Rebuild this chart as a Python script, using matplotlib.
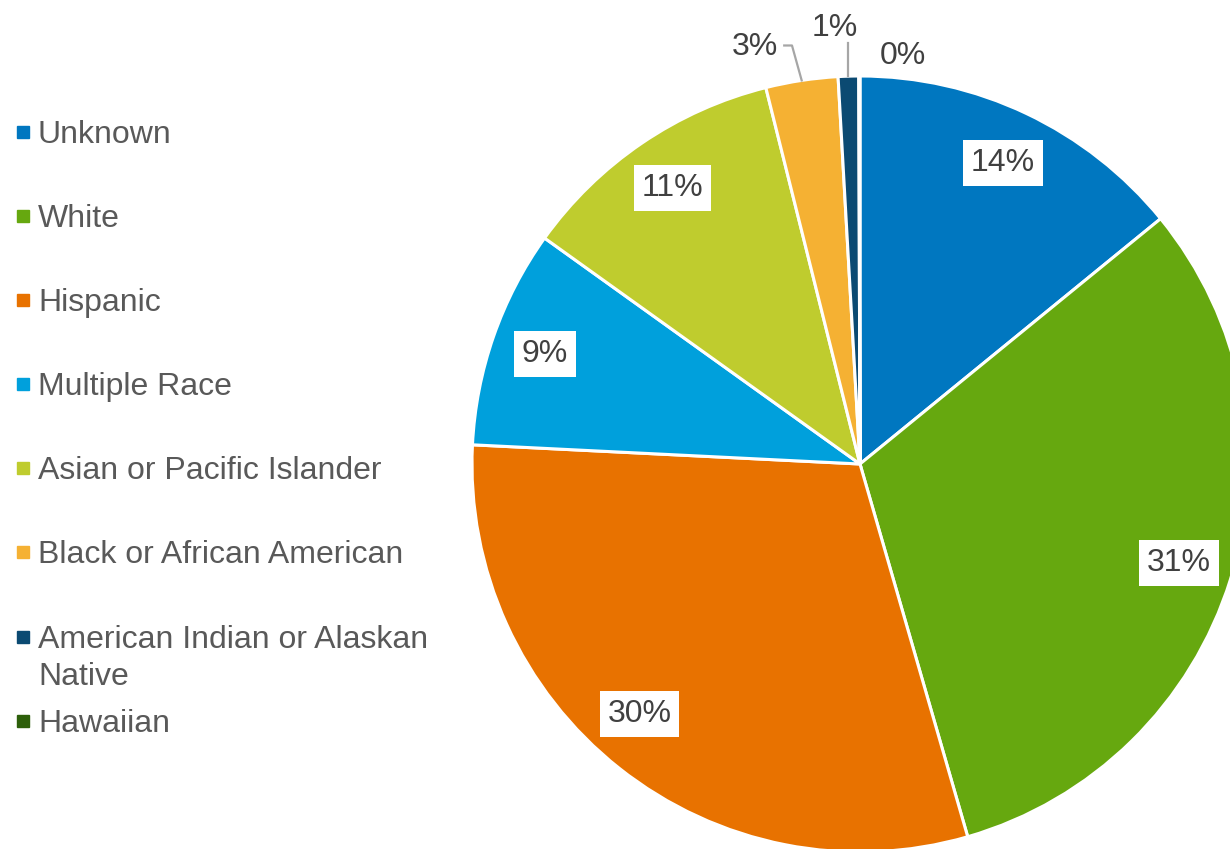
import numpy as np
import matplotlib.pyplot as plt

plt.rcParams['font.family'] = ['Liberation Sans', 'DejaVu Sans']

# data (percent of total)
categories = ["Unknown", "White", "Hispanic", "Multiple Race",
              "Asian or Pacific Islander", "Black or African American",
              "American Indian or Alaskan Native", "Hawaiian"]
values = [14.1, 31.4, 30.25, 9.1, 11.2, 3.0, 0.85, 0.05]
pct_labels = ["14%", "31%", "30%", "9%", "11%", "3%", "1%", "0%"]
colors = ["#0077C0", "#66A80F", "#E87200", "#00A0DC",
          "#BFCC2E", "#F5B133", "#0B4A72", "#2D5F0A"]

W, H = 1230, 849
fig = plt.figure(figsize=(W / 100, H / 100), dpi=100)
fig.patch.set_facecolor("white")

# pie axes: center (860, 464) px, radius 388 px
cx, cy, R = 860, 464, 388
ax = fig.add_axes([(cx - R) / W, (H - cy - R) / H, 2 * R / W, 2 * R / H])
wedges, _ = ax.pie(values, colors=colors, startangle=90, counterclock=False,
                   radius=1.0, wedgeprops=dict(edgecolor="white", linewidth=2.2))
ax.set_xlim(-1, 1)
ax.set_ylim(-1, 1)
ax.set_aspect("equal")
ax.axis("off")

txt_col = "#404040"
fs = 23

# inside labels for the big slices (Excel "best fit" nudges)
nudge = [0, 0, 3, 0, 0]
for w, lab, dn in zip(wedges[:5], pct_labels[:5], nudge):
    mid = np.deg2rad((w.theta1 + w.theta2) / 2 - dn)
    r = 0.86
    ax.text(r * np.cos(mid), r * np.sin(mid), lab, ha="center", va="center",
            fontsize=fs, color=txt_col,
            bbox=dict(boxstyle="square,pad=0.25", fc="white", ec="none"))

# small slices: labels outside, with leader lines
def edge_pt(w):
    mid = np.deg2rad((w.theta1 + w.theta2) / 2)
    return np.cos(mid), np.sin(mid)

# 3%
x0, y0 = edge_pt(wedges[5])
ax.plot([x0, x0 - 0.025, x0 - 0.045], [y0, y0 + 0.09, y0 + 0.09],
        color="#A6A6A6", lw=1.6, clip_on=False)
ax.text(x0 - 0.06, y0 + 0.085, pct_labels[5], ha="right", va="center",
        fontsize=fs, color=txt_col)
# 1%
x1, y1 = edge_pt(wedges[6])
ax.plot([x1, x1], [y1, y1 + 0.085], color="#A6A6A6", lw=1.6, clip_on=False)
ax.text(x1 - 0.035, y1 + 0.085, pct_labels[6], ha="center", va="bottom",
        fontsize=fs, color=txt_col)
# 0%
x2, y2 = edge_pt(wedges[7])
ax.text(x2 + 0.113, y2 + 0.052, pct_labels[7], ha="center", va="center",
        fontsize=fs, color=txt_col)

# legend drawn in pixel coordinates
lax = fig.add_axes([0, 0, 1, 1])
lax.set_xlim(0, W)
lax.set_ylim(H, 0)
lax.axis("off")
leg_col = "#595959"
rows = [132, 216, 300, 384, 468, 552, 637, 721]
for name, c, y in zip(categories, colors, rows):
    lax.add_patch(plt.Rectangle((17, y - 6), 12, 12, color=c))
    if name.startswith("American Indian"):
        lax.text(38, y + 3, "American Indian or Alaskan", fontsize=fs,
                 color=leg_col, va="center", ha="left")
        lax.text(38, y + 40, "Native", fontsize=fs, color=leg_col,
                 va="center", ha="left")
    else:
        lax.text(38, y + 3, name, fontsize=fs, color=leg_col, va="center", ha="left")

fig.savefig("out.png", dpi=100, facecolor="white")
